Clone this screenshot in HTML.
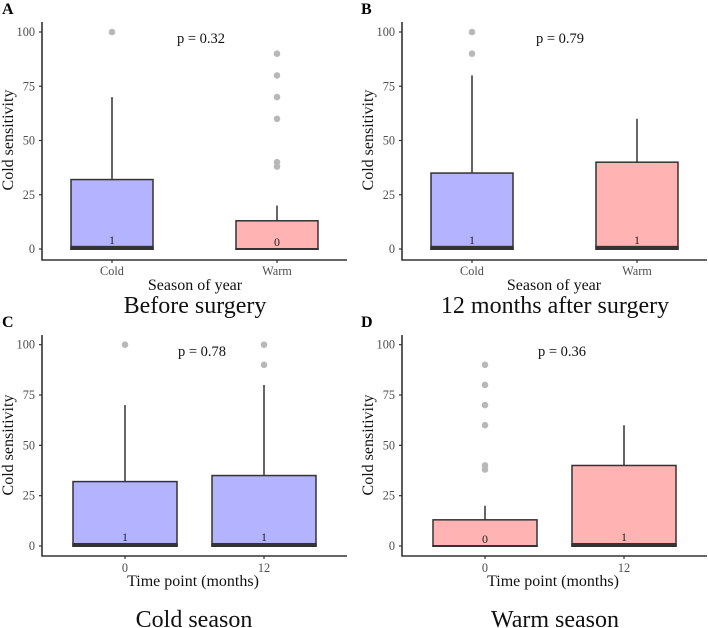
<!DOCTYPE html>
<html>
<head>
<meta charset="utf-8">
<style>
html,body{margin:0;padding:0;background:#fff;}
svg{display:block;font-family:"Liberation Serif",serif;}
</style>
</head>
<body>
<svg id="chart" width="708" height="628" viewBox="0 0 708 628" xmlns="http://www.w3.org/2000/svg"></svg>
<script>
const yTicks = [0, 25, 50, 75, 100];

const panelLetters = ["A", "B", "C", "D"];
const panelTitles = ["Before surgery", "12 months after surgery", "Cold season", "Warm season"];
const xTitles = ["Season of year", "Season of year", "Time point (months)", "Time point (months)"];
const pValues = ["p = 0.32", "p = 0.79", "p = 0.78", "p = 0.36"];
const categoriesA = ["Cold", "Warm"];
const categoriesB = ["Cold", "Warm"];
const categoriesC = ["0", "12"];
const categoriesD = ["0", "12"];

const q1A = [0, 0];
const medianA = [1, 0];
const q3A = [32, 13];
const whiskerA = [70, 20];
const outliersA = [[100], [90, 80, 70, 60, 40, 38]];
const fillsA = ["cold", "warm"];

const q1B = [0, 0];
const medianB = [1, 1];
const q3B = [35, 40];
const whiskerB = [80, 60];
const outliersB = [[100, 90], []];
const fillsB = ["cold", "warm"];

const q1C = [0, 0];
const medianC = [1, 1];
const q3C = [32, 35];
const whiskerC = [70, 80];
const outliersC = [[100], [100, 90]];
const fillsC = ["cold", "cold"];

const q1D = [0, 0];
const medianD = [0, 1];
const q3D = [13, 40];
const whiskerD = [20, 60];
const outliersD = [[90, 80, 70, 60, 40, 38], []];
const fillsD = ["warm", "warm"];

const panelData = [
  {cats: categoriesA, q1: q1A, med: medianA, q3: q3A, wh: whiskerA, out: outliersA, fills: fillsA},
  {cats: categoriesB, q1: q1B, med: medianB, q3: q3B, wh: whiskerB, out: outliersB, fills: fillsB},
  {cats: categoriesC, q1: q1C, med: medianC, q3: q3C, wh: whiskerC, out: outliersC, fills: fillsC},
  {cats: categoriesD, q1: q1D, med: medianD, q3: q3D, wh: whiskerD, out: outliersD, fills: fillsD}
];

const layouts = [
  {left: 42, right: 347, top: 22, bottom: 260, y100: 32, y0: 249, c0: 112, c1: 277, half: 41, letterX: 2, letterY: 14, ytX: 13, ytY: 140, pX: 201, pY: 43, tickY: 275, xtY: 290, xtX: 195, titleY: 313, midX: 195},
  {left: 402, right: 707, top: 22, bottom: 260, y100: 32, y0: 249, c0: 472, c1: 637, half: 41, letterX: 361, letterY: 14, ytX: 373, ytY: 140, pX: 560, pY: 43, tickY: 275, xtY: 290, xtX: 554, titleY: 313, midX: 555},
  {left: 42, right: 347, top: 335, bottom: 556, y100: 344.7, y0: 546, c0: 125, c1: 264, half: 52, letterX: 2, letterY: 327, ytX: 13, ytY: 445, pX: 202, pY: 356, tickY: 572, xtY: 586, xtX: 193, titleY: 627, midX: 194},
  {left: 402, right: 707, top: 335, bottom: 556, y100: 344.7, y0: 546, c0: 485, c1: 624, half: 52, letterX: 361, letterY: 327, ytX: 373, ytY: 445, pX: 562, pY: 356, tickY: 572, xtY: 586, xtX: 553, titleY: 627, midX: 555}
];

const NS = "http://www.w3.org/2000/svg";
const root = document.getElementById("chart");
const fillColors = {cold: "#b3b3ff", warm: "#ffb3b3"};

function add(parent, tag, attrs, text) {
  const el = document.createElementNS(NS, tag);
  for (const k in attrs) el.setAttribute(k, attrs[k]);
  if (text !== undefined) el.textContent = text;
  parent.appendChild(el);
  return el;
}

panelData.forEach(function (d, i) {
  const L = layouts[i];
  const letter = panelLetters[i].toLowerCase();
  const y = function (v) { return L.y0 + (L.y100 - L.y0) * v / 100; };
  const x = function (j) { return j === 0 ? L.c0 : L.c1; };

  const g = add(root, "g", {});
  
  

  const pl = add(g, "text", {x: L.letterX, y: L.letterY, "font-size": 16, "font-weight": "bold", fill: "#000"}, panelLetters[i]);
  
  

  yTicks.forEach(function (t) {
    const tm = add(g, "line", {x1: L.left - 3, x2: L.left, y1: y(t), y2: y(t), stroke: "#333", "stroke-width": 1.2});
    
    
    const tl = add(g, "text", {x: L.left - 7, y: y(t) + 4, "text-anchor": "end", "font-size": 12.3, fill: "#4d4d4d"}, String(t));
    
    
  });

  d.cats.forEach(function (c, j) {
    const cx = x(j);
    const whisk = add(g, "line", {x1: cx, x2: cx, y1: y(d.q3[j]), y2: y(d.wh[j]), stroke: "#333", "stroke-width": 1.5});
    
    

    const box = add(g, "rect", {x: cx - L.half, y: y(d.q3[j]), width: 2 * L.half, height: y(d.q1[j]) - y(d.q3[j]), fill: fillColors[d.fills[j]], stroke: "#333", "stroke-width": 1.5});
    
    

    const medBar = add(g, "rect", {x: cx - L.half - 0.75, y: y(d.med[j]) - 1, width: 2 * L.half + 1.5, height: y(d.q1[j]) - y(d.med[j]) + 2, fill: "#333"});
    
    

    const medLabel = add(g, "text", {x: cx, y: y(d.med[j]) - 3, "text-anchor": "middle", "font-size": 12, fill: "#222"}, String(d.med[j]));
    
    

    d.out[j].forEach(function (v) {
      const pt = add(g, "circle", {cx: cx, cy: y(v), r: 3.3, fill: "#b8b8b8"});
      
      
    });

    const tm = add(g, "line", {x1: cx, x2: cx, y1: L.bottom, y2: L.bottom + 3, stroke: "#333", "stroke-width": 1.2});
    
    

    const tl = add(g, "text", {x: cx, y: L.tickY, "text-anchor": "middle", "font-size": 12.3, fill: "#4d4d4d"}, c);
    
    
  });

  const ax = add(g, "path", {d: "M" + L.left + " " + L.top + "V" + L.bottom + "H" + L.right, fill: "none", stroke: "#333", "stroke-width": 1.6});
  
  

  const yTitle = add(g, "text", {x: L.ytX, y: L.ytY, transform: "rotate(-90 " + L.ytX + " " + L.ytY + ")", "text-anchor": "middle", "font-size": 16, fill: "#111"}, "Cold sensitivity");
  
  

  const xTitle = add(g, "text", {x: L.xtX, y: L.xtY, "text-anchor": "middle", "font-size": 16, fill: "#111"}, xTitles[i]);
  
  

  const pv = add(g, "text", {x: L.pX, y: L.pY, "text-anchor": "middle", "font-size": 14.5, fill: "#111"}, pValues[i]);
  
  

  const title = add(g, "text", {x: L.midX, y: L.titleY, "text-anchor": "middle", "font-size": 24, fill: "#111"}, panelTitles[i]);
  
  
});
</script>
</body>
</html>
